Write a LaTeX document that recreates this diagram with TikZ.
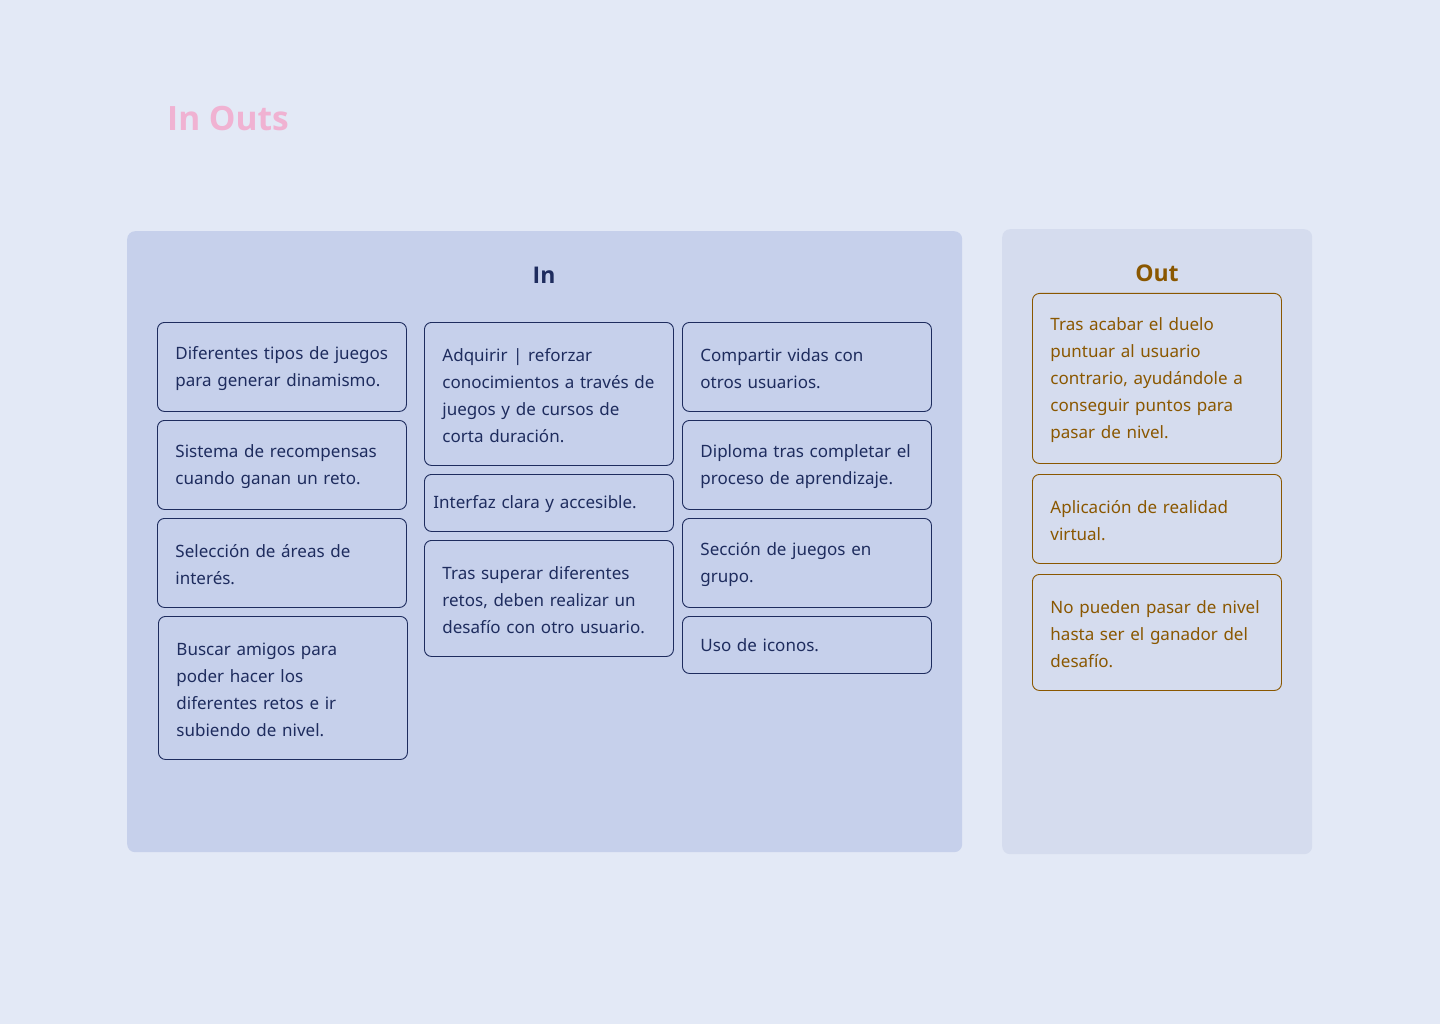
\documentclass[tikz,border=0pt]{standalone}
\usepackage{fontspec}
\setmainfont{Noto Sans}
\newfontfamily\headfont{Open Sans}
\usepackage{xcolor}
\usetikzlibrary{positioning}

\definecolor{bgblue}{HTML}{E3E9F6}
\definecolor{inpanel}{HTML}{C6D0EB}
\definecolor{outpanel}{HTML}{D5DCEE}
\definecolor{navy}{HTML}{1E2C5E}
\definecolor{ochre}{HTML}{8A5700}
\definecolor{pinktitle}{HTML}{F0B2D2}

\tikzset{
  panel/.style={rounded corners=8pt, anchor=north west, inner sep=0pt},
  inbox/.style={draw=navy, text=navy, rounded corners=7pt, line width=0.9pt,
    anchor=north west, align=left, text width=213pt, inner xsep=18pt,
    inner ysep=0pt, font=\fontsize{17}{27}\selectfont,
    execute at end node={\par\vspace{-3pt}}},
  outbox/.style={inbox, draw=ochre, text=ochre},
  heading/.style={font=\headfont\fontsize{23}{28}\selectfont\bfseries},
}

\begin{document}
\begin{tikzpicture}[x=1pt, y=-1pt]
  \fill[bgblue] (0,0) rectangle (1440,1024);
  \useasboundingbox (0,0) rectangle (1440,1024);

  \node[anchor=base west, text=pinktitle, font=\headfont\fontsize{33.5}{40}\selectfont\bfseries, inner sep=0pt]
    (title) at (167,131) {In Outs};

  % panels
  \node[panel, fill=inpanel, minimum width=835pt, minimum height=621pt] (inpanel) at (127,231) {};
  \node[panel, fill=outpanel, minimum width=310pt, minimum height=625pt] (outpanel) at (1002,229) {};
  \node[heading, text=navy] (inhead) at (544,275) {In};
  \node[heading, text=ochre] (outhead) at (1157,273) {Out};

  % first column
  \node[inbox, minimum height=89pt] (dinamismo) at (157,322)
    {Diferentes tipos de juegos\\para generar dinamismo.};
  \node[inbox, minimum height=89pt] (recompensas) at (157,420)
    {Sistema de recompensas\\cuando ganan un reto.};
  \node[inbox, minimum height=89pt] (areas) at (157,518)
    {Selección de áreas de\\interés.};
  \node[inbox, minimum height=143pt] (amigos) at (158,616)
    {Buscar amigos para\\poder hacer los\\diferentes retos e ir\\subiendo de nivel.};

  % second column
  \node[inbox, minimum height=143pt] (adquirir) at (424,322)
    {Adquirir | reforzar\\conocimientos a través de\\juegos y de cursos de\\corta duración.};
  \node[inbox, minimum height=57pt, inner xsep=9pt, text width=231pt] (interfaz) at (424,474)
    {Interfaz clara y accesible.};
  \node[inbox, minimum height=116pt] (desafio) at (424,540)
    {Tras superar diferentes\\retos, deben realizar un\\desafío con otro usuario.};

  % third column
  \node[inbox, minimum height=89pt] (vidas) at (682,322)
    {Compartir vidas con\\otros usuarios.};
  \node[inbox, minimum height=89pt] (diploma) at (682,420)
    {Diploma tras completar el\\proceso de aprendizaje.};
  \node[inbox, minimum height=89pt] (grupo) at (682,518)
    {Sección de juegos en\\grupo.};
  \node[inbox, minimum height=57pt] (iconos) at (682,616)
    {Uso de iconos.};

  % out column
  \node[outbox, minimum height=170pt] (duelo) at (1032,293)
    {Tras acabar el duelo\\puntuar al usuario\\contrario, ayudándole a\\conseguir puntos para\\pasar de nivel.};
  \node[outbox, minimum height=89pt] (virtual) at (1032,474)
    {Aplicación de realidad\\virtual.};
  \node[outbox, minimum height=116pt] (ganador) at (1032,574)
    {No pueden pasar de nivel\\hasta ser el ganador del\\desafío.};
\end{tikzpicture}
\end{document}
